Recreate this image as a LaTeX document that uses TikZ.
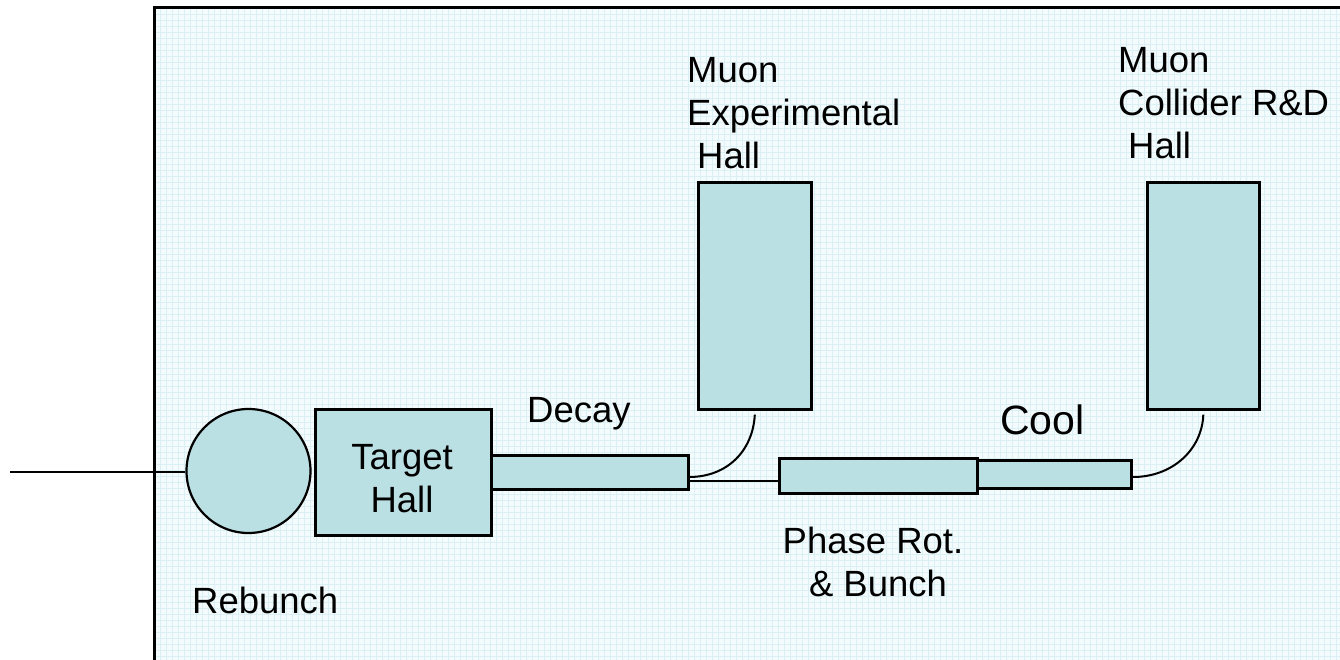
\documentclass[tikz,border=0pt]{standalone}
\usepackage{fontspec}
\setmainfont{Liberation Sans}
\definecolor{boxfill}{RGB}{187,224,227}
\definecolor{gridc}{RGB}{218,240,244}
\definecolor{bgc}{RGB}{244,251,252}
\begin{document}
\begin{tikzpicture}[x=1pt,y=-1pt,
  box/.style={draw=black, line width=2.6pt, fill=boxfill, inner sep=0pt, anchor=north west},
  lbl/.style={font=\fontsize{36.5}{43}\selectfont, inner sep=0pt, align=left},
  conn/.style={line width=2pt}]
\useasboundingbox (0,0) rectangle (1340,660);
% background
\fill[bgc] (154,8) rectangle (1340,660);
\foreach \i in {0,...,197} \draw[gridc, line width=0.7pt] ({154+6*\i},8) -- ({154+6*\i},660);
\foreach \j in {0,...,108} \draw[gridc, line width=0.7pt] (154,{8+6*\j}) -- (1340,{8+6*\j});
\draw[line width=3pt] (154,660) -- (154,8) -- (1340,8);
% shapes
\node[circle, draw=black, line width=2.2pt, fill=boxfill, minimum size=124pt, inner sep=0pt] (reb) at (248.5,471) {};
\node[box, minimum width=176pt, minimum height=126pt] (target) at (314,408) {};
\node[box, minimum width=197pt, minimum height=34pt] (decay) at (490,454) {};
\node[box, minimum width=113pt, minimum height=227pt] (exph) at (697,181) {};
\node[box, minimum width=198pt, minimum height=35pt] (phase) at (778,457) {};
\node[box, minimum width=154pt, minimum height=28pt] (cool) at (976,459) {};
\node[box, minimum width=112pt, minimum height=227pt] (coll) at (1146,181) {};
% connectors
\coordinate (beamstart) at (10,472);
\draw[conn] (beamstart) -- (reb.west |- beamstart);
\coordinate (d1) at (689,477);
\coordinate (d2) at (690,481);
\coordinate (c1) at (1133,477);
\draw[conn] (d1) .. controls (728,477) and (753,450) .. ([yshift=-4pt]exph.south);
\draw[conn] (d2) -- (phase.west |- d2);
\draw[conn] (c1) .. controls (1172,477) and (1202,450) .. ([yshift=-4pt]coll.south);
% labels
\node[lbl, align=center, anchor=north] (targettxt) at (402,444) {Target\\Hall};
\node[lbl, anchor=base west] (decaytxt) at (527,422) {Decay};
\node[lbl, anchor=base west] (rebtxt) at (192,613) {Rebunch};
\node[lbl, font=\fontsize{41}{49}\selectfont, anchor=base west] (cooltxt) at (1000,434) {Cool};
\node[lbl, anchor=north west] (exptxt) at (687,57) {Muon\\Experimental\\\hspace*{10pt}Hall};
\node[lbl, anchor=north west] (colltxt) at (1118,47) {Muon\\Collider R\&D\\\hspace*{10pt}Hall};
\node[lbl, align=center, anchor=north] (phasetxt) at (873,527) {Phase Rot.\\\hspace*{10pt}\& Bunch};
\end{tikzpicture}
\end{document}
